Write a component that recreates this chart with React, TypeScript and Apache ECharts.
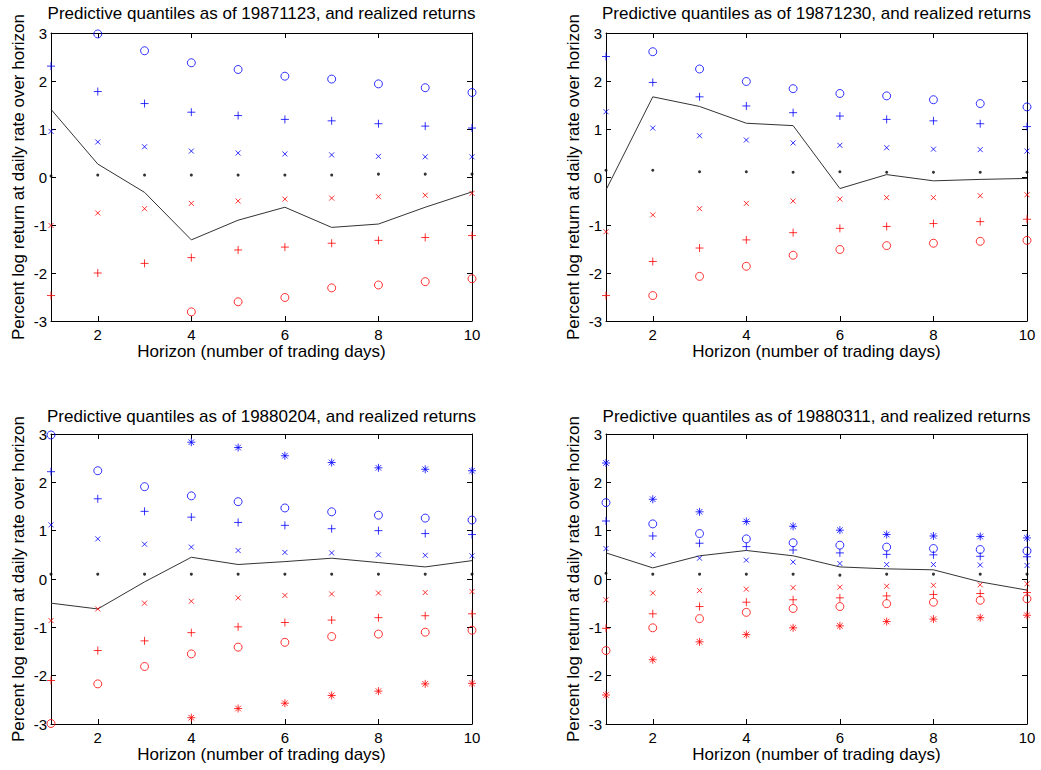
import React, { useEffect, useRef } from "react";
import * as echarts from "echarts";

// ---------- data ----------
const horizons = [1, 2, 3, 4, 5, 6, 7, 8, 9, 10];
const yTicks = [-3, -2, -1, 0, 1, 2, 3];
const xTickLabels = [2, 4, 6, 8, 10];

const titles = [
  "Predictive quantiles as of 19871123, and realized returns",
  "Predictive quantiles as of 19871230, and realized returns",
  "Predictive quantiles as of 19880204, and realized returns",
  "Predictive quantiles as of 19880311, and realized returns",
];
const xName = "Horizon (number of trading days)";
const yName = "Percent log return at daily rate over horizon";

// Panel 1: 19871123
const p1BlueO = [null, 2.98, 2.63, 2.38, 2.24, 2.1, 2.04, 1.94, 1.86, 1.76];
const p1BluePlus = [2.31, 1.78, 1.53, 1.35, 1.28, 1.2, 1.17, 1.11, 1.06, 1.02];
const p1BlueX = [0.95, 0.73, 0.63, 0.54, 0.5, 0.48, 0.46, 0.43, 0.42, 0.42];
const p1Median = [0.02, 0.04, 0.04, 0.04, 0.04, 0.04, 0.04, 0.06, 0.06, 0.06];
const p1RedX = [-1.01, -0.75, -0.66, -0.55, -0.5, -0.46, -0.44, -0.41, -0.38, -0.34];
const p1RedPlus = [-2.47, -2.0, -1.8, -1.68, -1.52, -1.46, -1.38, -1.32, -1.26, -1.22];
const p1RedO = [null, null, null, -2.81, -2.6, -2.51, -2.31, -2.25, -2.18, -2.12];
const p1Realized = [1.41, 0.27, -0.32, -1.31, -0.9, -0.63, -1.05, -0.98, -0.63, -0.31];

// Panel 2: 19871230
const p2BlueO = [null, 2.61, 2.25, 1.99, 1.84, 1.74, 1.69, 1.61, 1.53, 1.46];
const p2BluePlus = [2.51, 1.97, 1.67, 1.48, 1.34, 1.27, 1.2, 1.17, 1.11, 1.05];
const p2BlueX = [1.36, 1.02, 0.86, 0.77, 0.71, 0.66, 0.61, 0.58, 0.57, 0.54];
const p2Median = [0.14, 0.14, 0.11, 0.11, 0.1, 0.11, 0.1, 0.1, 0.1, 0.1];
const p2RedX = [-1.14, -0.79, -0.66, -0.55, -0.5, -0.46, -0.43, -0.43, -0.39, -0.37];
const p2RedPlus = [-2.47, -1.76, -1.48, -1.31, -1.16, -1.07, -1.03, -0.97, -0.93, -0.88];
const p2RedO = [null, -2.47, -2.07, -1.86, -1.63, -1.51, -1.43, -1.38, -1.34, -1.32];
const p2Realized = [-0.27, 1.67, 1.47, 1.12, 1.07, -0.24, 0.05, -0.08, -0.05, -0.03];

// Panel 3: 19880204
const p3BlueStar = [null, null, null, 2.83, 2.72, 2.55, 2.41, 2.3, 2.27, 2.24];
const p3BlueO = [2.98, 2.24, 1.91, 1.72, 1.6, 1.47, 1.39, 1.32, 1.26, 1.22];
const p3BluePlus = [2.22, 1.66, 1.4, 1.28, 1.17, 1.11, 1.04, 1.0, 0.94, 0.92];
const p3BlueX = [1.12, 0.83, 0.72, 0.66, 0.59, 0.55, 0.54, 0.5, 0.49, 0.48];
const p3Median = [0.1, 0.1, 0.1, 0.1, 0.1, 0.1, 0.1, 0.1, 0.1, 0.1];
const p3RedX = [-0.86, -0.62, -0.5, -0.46, -0.39, -0.34, -0.31, -0.29, -0.28, -0.26];
const p3RedPlus = [-2.1, -1.48, -1.28, -1.11, -0.99, -0.9, -0.85, -0.8, -0.76, -0.72];
const p3RedO = [-2.99, -2.17, -1.81, -1.55, -1.41, -1.31, -1.19, -1.14, -1.1, -1.06];
const p3RedStar = [null, null, null, -2.87, -2.68, -2.57, -2.41, -2.32, -2.17, -2.16];
const p3Realized = [-0.5, -0.62, -0.06, 0.45, 0.3, 0.36, 0.43, 0.34, 0.25, 0.38];

// Panel 4: 19880311
const p4BlueStar = [2.4, 1.65, 1.39, 1.19, 1.09, 1.01, 0.92, 0.89, 0.88, 0.85];
const p4BlueO = [1.58, 1.14, 0.94, 0.83, 0.75, 0.7, 0.66, 0.63, 0.61, 0.58];
const p4BluePlus = [1.2, 0.89, 0.74, 0.67, 0.6, 0.54, 0.51, 0.5, 0.47, 0.46];
const p4BlueX = [0.63, 0.5, 0.43, 0.39, 0.35, 0.32, 0.3, 0.3, 0.29, 0.28];
const p4Median = [0.12, 0.1, 0.1, 0.1, 0.1, 0.08, 0.1, 0.1, 0.1, 0.1];
const p4RedX = [-0.43, -0.29, -0.24, -0.21, -0.18, -0.17, -0.15, -0.13, -0.12, -0.1];
const p4RedPlus = [-1.02, -0.72, -0.57, -0.48, -0.43, -0.39, -0.35, -0.32, -0.3, -0.28];
const p4RedO = [-1.48, -1.01, -0.82, -0.69, -0.61, -0.57, -0.51, -0.48, -0.44, -0.41];
const p4RedStar = [-2.4, -1.67, -1.3, -1.15, -1.01, -0.97, -0.88, -0.83, -0.8, -0.75];
const p4Realized = [0.54, 0.23, 0.48, 0.59, 0.48, 0.25, 0.21, 0.19, -0.06, -0.23];

// ---------- styling ----------
const BLUE = "#0000ff";
const RED = "#ff0000";
const BLACK = "#000000";
const FONT = '"Liberation Sans", Arial, Helvetica, sans-serif';
const TICK_FONT = 15;
const LABEL_FONT = 17;

type Marker = "o" | "+" | "x" | "." | "*";
const SYMBOLS: Record<Marker, { symbol: string; size: number; filled: boolean }> = {
  o: { symbol: "circle", size: 8, filled: false },
  "+": { symbol: "path://M0,4L8,4M4,0L4,8", size: 8, filled: false },
  x: { symbol: "path://M0,0L6,6M6,0L0,6", size: 5, filled: false },
  "*": { symbol: "path://M0,4L8,4M4,0L4,8M1.2,1.2L6.8,6.8M6.8,1.2L1.2,6.8", size: 8, filled: false },
  ".": { symbol: "circle", size: 3, filled: true },
};

const panels = [
  {
    realized: p1Realized,
    quantiles: [
      { data: p1BlueO, color: BLUE, marker: "o" as Marker },
      { data: p1BluePlus, color: BLUE, marker: "+" as Marker },
      { data: p1BlueX, color: BLUE, marker: "x" as Marker },
      { data: p1Median, color: BLACK, marker: "." as Marker },
      { data: p1RedX, color: RED, marker: "x" as Marker },
      { data: p1RedPlus, color: RED, marker: "+" as Marker },
      { data: p1RedO, color: RED, marker: "o" as Marker },
    ],
  },
  {
    realized: p2Realized,
    quantiles: [
      { data: p2BlueO, color: BLUE, marker: "o" as Marker },
      { data: p2BluePlus, color: BLUE, marker: "+" as Marker },
      { data: p2BlueX, color: BLUE, marker: "x" as Marker },
      { data: p2Median, color: BLACK, marker: "." as Marker },
      { data: p2RedX, color: RED, marker: "x" as Marker },
      { data: p2RedPlus, color: RED, marker: "+" as Marker },
      { data: p2RedO, color: RED, marker: "o" as Marker },
    ],
  },
  {
    realized: p3Realized,
    quantiles: [
      { data: p3BlueStar, color: BLUE, marker: "*" as Marker },
      { data: p3BlueO, color: BLUE, marker: "o" as Marker },
      { data: p3BluePlus, color: BLUE, marker: "+" as Marker },
      { data: p3BlueX, color: BLUE, marker: "x" as Marker },
      { data: p3Median, color: BLACK, marker: "." as Marker },
      { data: p3RedX, color: RED, marker: "x" as Marker },
      { data: p3RedPlus, color: RED, marker: "+" as Marker },
      { data: p3RedO, color: RED, marker: "o" as Marker },
      { data: p3RedStar, color: RED, marker: "*" as Marker },
    ],
  },
  {
    realized: p4Realized,
    quantiles: [
      { data: p4BlueStar, color: BLUE, marker: "*" as Marker },
      { data: p4BlueO, color: BLUE, marker: "o" as Marker },
      { data: p4BluePlus, color: BLUE, marker: "+" as Marker },
      { data: p4BlueX, color: BLUE, marker: "x" as Marker },
      { data: p4Median, color: BLACK, marker: "." as Marker },
      { data: p4RedX, color: RED, marker: "x" as Marker },
      { data: p4RedPlus, color: RED, marker: "+" as Marker },
      { data: p4RedO, color: RED, marker: "o" as Marker },
      { data: p4RedStar, color: RED, marker: "*" as Marker },
    ],
  },
];

const GRIDS = [
  { left: 51, top: 33, width: 421, height: 288 },
  { left: 606, top: 33, width: 421, height: 288 },
  { left: 51, top: 434, width: 421, height: 290 },
  { left: 606, top: 434, width: 421, height: 290 },
];
const TITLE_OFFSETS = [20, 20, 18, 18];

function toPoints(values: (number | null)[]) {
  const pts: number[][] = [];
  horizons.forEach((h, k) => {
    const v = values[k];
    if (v !== null && v !== undefined) pts.push([h, v]);
  });
  return pts;
}

function buildOption() {
  const xAxis: any[] = [];
  const yAxis: any[] = [];
  const series: any[] = [];
  const graphic: any[] = [];
  const lineStyle = { color: "#000", width: 1 };
  const tickBase = { show: true, inside: true, length: 5, lineStyle };

  GRIDS.forEach((g, i) => {
    xAxis.push({
      type: "value",
      gridIndex: i,
      min: 1,
      max: 10,
      position: "bottom",
      axisLine: { show: true, onZero: false, lineStyle },
      axisTick: { ...tickBase, customValues: xTickLabels },
      axisLabel: {
        customValues: xTickLabels,
        color: "#000",
        fontSize: TICK_FONT,
        fontFamily: FONT,
        margin: 6,
      },
      splitLine: { show: false },
      name: xName,
      nameLocation: "middle",
      nameGap: 22,
      nameTextStyle: { color: "#000", fontSize: LABEL_FONT, fontFamily: FONT },
    });
    xAxis.push({
      type: "value",
      gridIndex: i,
      min: 1,
      max: 10,
      position: "top",
      axisLine: { show: true, onZero: false, lineStyle },
      axisTick: { ...tickBase, customValues: xTickLabels },
      axisLabel: { show: false },
      splitLine: { show: false },
    });
    yAxis.push({
      type: "value",
      gridIndex: i,
      min: -3,
      max: 3,
      interval: 1,
      position: "left",
      axisLine: { show: true, onZero: false, lineStyle },
      axisTick: { ...tickBase },
      axisLabel: {
        customValues: yTicks,
        color: "#000",
        fontSize: TICK_FONT,
        fontFamily: FONT,
        margin: 4,
      },
      splitLine: { show: false },
      name: yName,
      nameLocation: "middle",
      nameGap: 24,
      nameTextStyle: { color: "#000", fontSize: LABEL_FONT, fontFamily: FONT },
    });
    yAxis.push({
      type: "value",
      gridIndex: i,
      min: -3,
      max: 3,
      interval: 1,
      position: "right",
      axisLine: { show: true, onZero: false, lineStyle },
      axisTick: { ...tickBase },
      axisLabel: { show: false },
      splitLine: { show: false },
    });

    const p = panels[i];
    series.push({
      type: "line",
      xAxisIndex: 2 * i,
      yAxisIndex: 2 * i,
      data: toPoints(p.realized),
      symbol: "none",
      lineStyle: { color: "#333", width: 1 },
      silent: true,
      z: 2,
    });
    p.quantiles.forEach((q) => {
      const s = SYMBOLS[q.marker];
      series.push({
        type: "scatter",
        xAxisIndex: 2 * i,
        yAxisIndex: 2 * i,
        data: toPoints(q.data),
        symbol: s.symbol,
        symbolSize: s.size,
        clip: false,
        silent: true,
        z: 3,
        itemStyle: s.filled
          ? { color: q.color }
          : { color: "rgba(0,0,0,0)", borderColor: q.color, borderWidth: 1 },
      });
    });

    graphic.push({
      type: "text",
      x: g.left + g.width / 2,
      y: g.top - TITLE_OFFSETS[i],
      style: {
        text: titles[i],
        fill: "#000",
        fontSize: LABEL_FONT,
        fontFamily: FONT,
        align: "center",
        textAlign: "center",
        verticalAlign: "middle",
        textVerticalAlign: "middle",
      },
    });
  });

  return {
    animation: false,
    backgroundColor: "#ffffff",
    grid: GRIDS.map((g) => ({ ...g, containLabel: false })),
    xAxis,
    yAxis,
    series,
    graphic,
  };
}

export default function App() {
  const ref = useRef<HTMLDivElement>(null);
  useEffect(() => {
    if (!ref.current) return;
    const chart = echarts.init(ref.current, undefined, { renderer: "svg" });
    chart.setOption(buildOption() as any);
    return () => chart.dispose();
  }, []);
  return (
    <div
      ref={ref}
      style={{ position: "fixed", left: 0, top: 0, width: 1041, height: 770, background: "#fff" }}
    />
  );
}
